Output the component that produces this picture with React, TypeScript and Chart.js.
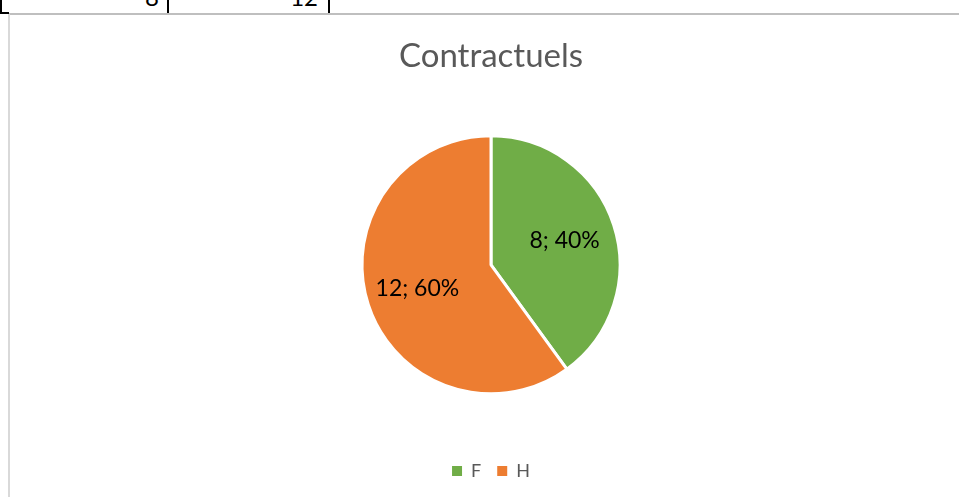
import React, { useEffect, useRef } from "react";
import { Chart, registerables } from "chart.js";

Chart.register(...registerables);

const categories = ["F", "H"];
const values = [8, 12];
const colors = ["#70AD47", "#ED7D31"];
const chartTitle = "Contractuels";
const tableCells = ["8", "12"];

const sliceLabels = {
  id: "sliceLabels",
  afterDatasetsDraw(chart: any) {
    const ctx = chart.ctx;
    const meta = chart.getDatasetMeta(0);
    const data = chart.data.datasets[0].data as number[];
    const total = data.reduce((a, b) => a + b, 0);
    ctx.save();
    ctx.font = "23px Lato";
    ctx.fillStyle = "#000000";
    ctx.textAlign = "center";
    ctx.textBaseline = "middle";
    meta.data.forEach((arc: any, i: number) => {
      const p = arc.getProps(["x", "y", "startAngle", "endAngle", "outerRadius"], true);
      const mid = (p.startAngle + p.endAngle) / 2;
      const d = p.outerRadius * 0.6;
      const tx = p.x + Math.cos(mid) * d;
      const ty = p.y + Math.sin(mid) * d;
      const v = data[i];
      ctx.fillText(`${v}; ${Math.round((v / total) * 100)}%`, tx, ty);
    });
    ctx.restore();
  },
};

export default function App() {
  const ref = useRef<HTMLCanvasElement>(null);
  useEffect(() => {
    if (!ref.current) return;
    const chart = new Chart(ref.current, {
      type: "pie",
      data: {
        labels: categories,
        datasets: [
          {
            data: values,
            backgroundColor: colors,
            borderColor: "#ffffff",
            borderWidth: 3,
          },
        ],
      },
      options: {
        responsive: false,
        animation: false,
        radius: 129,
        layout: { padding: { top: 0, bottom: 7, left: 0, right: 0 } },
        plugins: {
          title: {
            display: true,
            text: chartTitle,
            color: "#595959",
            font: { family: "Lato", size: 33, weight: "normal" },
            padding: { top: 22, bottom: 7 },
          },
          legend: {
            display: true,
            position: "bottom",
            labels: {
              color: "#595959",
              font: { family: "Lato", size: 18 },
              boxWidth: 10,
              boxHeight: 10,
              padding: 16,
              generateLabels: (chart: any) =>
                chart.data.labels.map((l: string, i: number) => ({
                  text: l,
                  fillStyle: colors[i],
                  strokeStyle: colors[i],
                  lineWidth: 0,
                  fontColor: "#595959",
                  hidden: false,
                  index: i,
                })),
            },
          },
          tooltip: { enabled: false },
        },
      } as any,
      plugins: [sliceLabels],
    });
    return () => chart.destroy();
  }, []);

  return (
    <div
      style={{
        position: "absolute",
        left: 0,
        top: 0,
        width: 959,
        height: 497,
        overflow: "hidden",
        background: "#ffffff",
      }}
    >
      {/* partial spreadsheet table above the chart */}
      <div style={{ position: "absolute", left: 0, top: 0, width: 2, height: 14, background: "#000" }} />
      <div style={{ position: "absolute", left: 0, top: 12, width: 9, height: 2, background: "#000" }} />
      <div style={{ position: "absolute", left: 167, top: 0, width: 2, height: 13, background: "#000" }} />
      <div style={{ position: "absolute", left: 328, top: 0, width: 2, height: 13, background: "#000" }} />
      <div
        style={{
          position: "absolute",
          right: 959 - 159,
          top: -17,
          fontFamily: "Lato",
          fontSize: 24,
          lineHeight: "28.8px",
          color: "#000",
        }}
      >
        {tableCells[0]}
      </div>
      <div
        style={{
          position: "absolute",
          right: 959 - 318,
          top: -17,
          fontFamily: "Lato",
          fontSize: 24,
          lineHeight: "28.8px",
          color: "#000",
        }}
      >
        {tableCells[1]}
      </div>
      {/* chart frame */}
      <div style={{ position: "absolute", left: 9, top: 13, width: 950, height: 2, background: "#bfbfbf" }} />
      <div style={{ position: "absolute", left: 8, top: 14, width: 2, height: 483, background: "#d9d9d9" }} />
      <canvas
        ref={ref}
        width={950}
        height={482}
        style={{ position: "absolute", left: 16, top: 15, width: 950, height: 482 }}
      />
    </div>
  );
}
